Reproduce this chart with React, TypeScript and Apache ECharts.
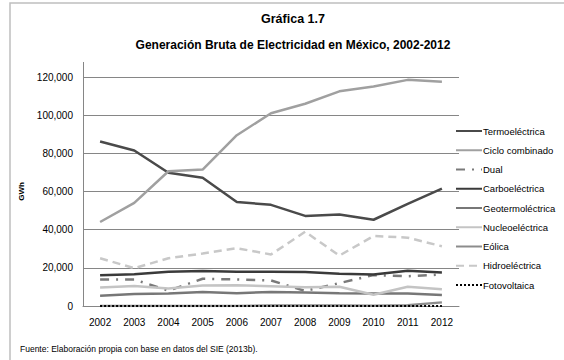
import React, { useEffect, useRef } from "react";
import * as echarts from "echarts";

const years = ["2002", "2003", "2004", "2005", "2006", "2007", "2008", "2009", "2010", "2011", "2012"];
const termoelectrica = [86200, 81500, 69800, 67200, 54500, 53000, 47200, 48000, 45200, 53500, 61500];
const cicloCombinado = [44000, 54000, 70600, 71500, 89500, 101000, 106000, 112500, 115000, 118500, 117500];
const dual = [13900, 13900, 8000, 14300, 13900, 13400, 7900, 12000, 16200, 15600, 16500];
const carboelectrica = [16100, 16700, 17900, 18400, 18000, 18000, 17800, 16900, 16500, 18500, 17500];
const geotermoelectrica = [5400, 6300, 6600, 7300, 6700, 7400, 7100, 6700, 6600, 6500, 5800];
const nucleoelectrica = [9700, 10500, 9200, 10800, 10900, 10400, 9800, 10100, 5900, 10100, 8800];
const eolica = [7, 5, 6, 5, 45, 248, 255, 249, 166, 400, 1900];
const hidroelectrica = [25000, 19800, 25000, 27500, 30300, 27000, 38900, 26400, 36700, 35800, 31300];
const fotovoltaica = [1, 1, 1, 1, 1, 1, 1, 1, 2, 3, 5];
const yTicks = [0, 20000, 40000, 60000, 80000, 100000, 120000];

const FONT = "'Liberation Sans', Arial, sans-serif";

export default function App() {
  const ref = useRef<HTMLDivElement>(null);
  useEffect(() => {
    const chart = echarts.init(ref.current!, undefined, { renderer: "svg" });
    const mk = (name: string, data: number[], color: string, type: any, width = 2.5) => ({
      name,
      type: "line",
      data,
      symbol: "none",
      smooth: false,
      lineStyle: { color, width, type },
      itemStyle: { color },
    });
    chart.setOption({
      animation: false,
      backgroundColor: "#ffffff",
      textStyle: { fontFamily: FONT },
      title: [
        {
          text: "Gráfica 1.7",
          left: 288,
          top: 7,
          textAlign: "center",
          textStyle: { fontFamily: FONT, fontSize: 12.5, fontWeight: "bold", color: "#000" },
        },
        {
          text: "Generación Bruta de Electricidad en México, 2002-2012",
          left: 288,
          top: 34,
          textAlign: "center",
          textStyle: { fontFamily: FONT, fontSize: 12, fontWeight: "bold", color: "#000" },
        },
      ],
      graphic: [
        {
          type: "rect",
          shape: { x: 10, y: 3, width: 600, height: 400 },
          style: { fill: "none", stroke: "#bfbfbf", lineWidth: 1.5 },
          silent: true,
        },
        {
          type: "line",
          shape: { x1: 83.5, y1: 62, x2: 83.5, y2: 78 },
          style: { stroke: "#868686", lineWidth: 1 },
          silent: true,
        },
        {
          type: "text",
          left: 20,
          top: 344,
          style: {
            text: "Fuente: Elaboración propia con base en datos del SIE (2013b).",
            font: `8.5px ${FONT}`,
            fill: "#000",
          },
        },
      ],
      legend: {
        orient: "vertical",
        left: 450,
        top: 121,
        itemWidth: 26,
        itemHeight: 10,
        itemGap: 9.25,
        itemStyle: { opacity: 0 },
        textStyle: { fontFamily: FONT, fontSize: 9.5, color: "#000", padding: [0, 0, 0, -4] },
        data: [
          "Termoeléctrica",
          "Ciclo combinado",
          "Dual",
          "Carboeléctrica",
          "Geotermoléctrica",
          "Nucleoeléctrica",
          "Eólica",
          "Hidroeléctrica",
          "Fotovoltaica",
        ],
      },
      grid: { left: 83, right: 105, top: 77, bottom: 54 },
      xAxis: {
        type: "category",
        data: years,
        boundaryGap: true,
        axisLine: { lineStyle: { color: "#868686" } },
        axisTick: { show: false },
        axisLabel: { fontFamily: FONT, fontSize: 10, color: "#000", margin: 11 },
      },
      yAxis: {
        type: "value",
        min: yTicks[0],
        max: yTicks[yTicks.length - 1],
        interval: 20000,
        name: "GWh",
        nameLocation: "middle",
        nameGap: 44,
        nameRotate: 90,
        nameTextStyle: { fontFamily: FONT, fontSize: 8, fontWeight: "bold", color: "#000" },
        axisLine: { show: true, lineStyle: { color: "#868686" } },
        axisTick: { show: false },
        splitLine: { lineStyle: { color: "#868686", width: 1 } },
        axisLabel: {
          fontFamily: FONT,
          fontSize: 10,
          color: "#000",
          margin: 10,
          formatter: (v: number) => v.toLocaleString("en-US"),
        },
      },
      series: [
        mk("Termoeléctrica", termoelectrica, "#4a4a4a", "solid"),
        mk("Ciclo combinado", cicloCombinado, "#a0a0a0", "solid"),
        mk("Dual", dual, "#7a7a7a", [9, 7, 2, 7]),
        mk("Carboeléctrica", carboelectrica, "#3a3a3a", "solid"),
        mk("Geotermoléctrica", geotermoelectrica, "#777777", "solid"),
        mk("Nucleoeléctrica", nucleoelectrica, "#c4c4c4", "solid"),
        mk("Eólica", eolica, "#8c8c8c", "solid"),
        mk("Hidroeléctrica", hidroelectrica, "#c8c8c8", [8, 5]),
        mk("Fotovoltaica", fotovoltaica, "#000000", [2, 2], 2),
      ],
    });
    return () => chart.dispose();
  }, []);
  return <div ref={ref} style={{ width: 564, height: 360, position: "absolute", left: 0, top: 0 }} />;
}
